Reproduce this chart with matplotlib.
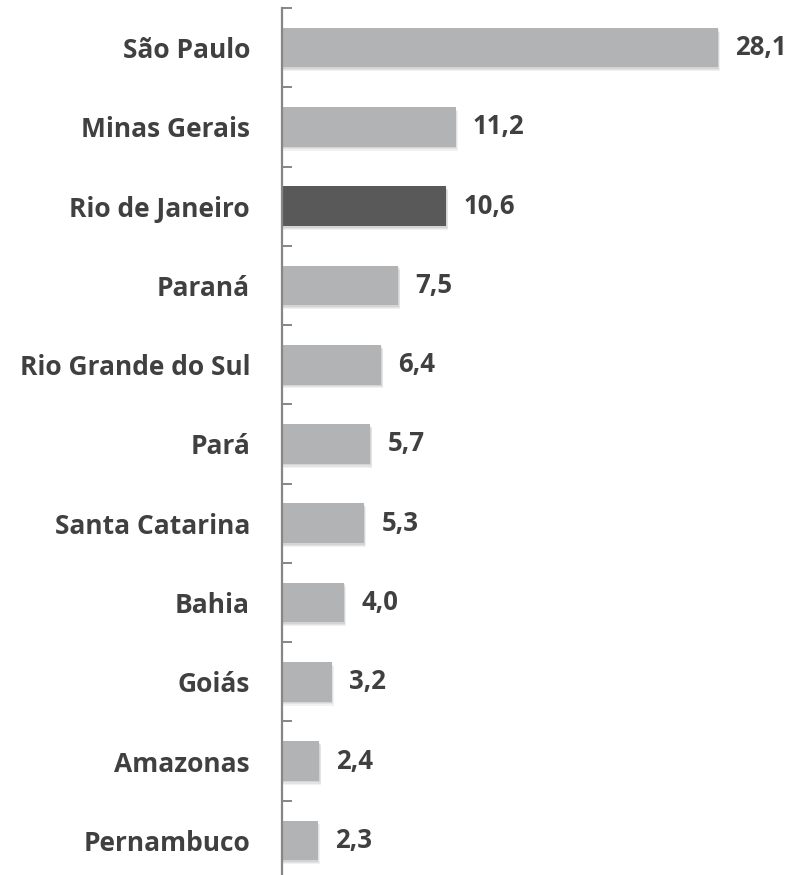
import matplotlib
matplotlib.use('Agg')
import matplotlib.pyplot as plt
from matplotlib.ticker import FixedLocator

estados = ['São Paulo', 'Minas Gerais', 'Rio de Janeiro', 'Paraná', 'Rio Grande do Sul',
           'Pará', 'Santa Catarina', 'Bahia', 'Goiás', 'Amazonas', 'Pernambuco']
valores = [28.1, 11.2, 10.6, 7.5, 6.4, 5.7, 5.3, 4.0, 3.2, 2.4, 2.3]
destaque = 'Rio de Janeiro'

plt.rcParams['font.family'] = ['Open Sans', 'DejaVu Sans']

fig = plt.figure(figsize=(7.94, 8.75), dpi=100)
ax = fig.add_axes([0.3552, -0.0057, 0.6448, 0.9966])

n = len(estados)
pos = list(range(n))
cores = ['#595959' if e == destaque else '#b2b3b5' for e in estados]

# sombra leve
for dx, dy, a in [(0.12, 0.05, 0.10), (0.08, 0.035, 0.12), (0.04, 0.02, 0.15)]:
    ax.barh([p + dy for p in pos], [v + dx for v in valores], height=0.5,
            color='#7f7f7f', alpha=a, linewidth=0, zorder=1)
ax.barh(pos, valores, height=0.5, color=cores, linewidth=0, zorder=2)

for p, v in zip(pos, valores):
    ax.text(v + 1.1, p, f'{v:.1f}'.replace('.', ','), va='center', ha='left',
            fontsize=18.5, fontweight='bold', color='#404040')

ax.set_xlim(0, 33)
ax.set_ylim(n - 0.5, -0.5)
ax.set_yticks(pos)
ax.set_yticklabels(estados, fontsize=19, fontweight='bold', color='#404040')
ax.yaxis.set_minor_locator(FixedLocator([p - 0.5 for p in range(n + 1)]))
ax.tick_params(axis='y', which='major', length=0, pad=23)
ax.tick_params(axis='y', which='minor', direction='in', length=7, width=1.4, color='#868686')
ax.set_xticks([])
for s in ['top', 'right', 'bottom']:
    ax.spines[s].set_visible(False)
ax.spines['left'].set_color('#868686')
ax.spines['left'].set_linewidth(1.6)

fig.savefig('out.png', dpi=100)
